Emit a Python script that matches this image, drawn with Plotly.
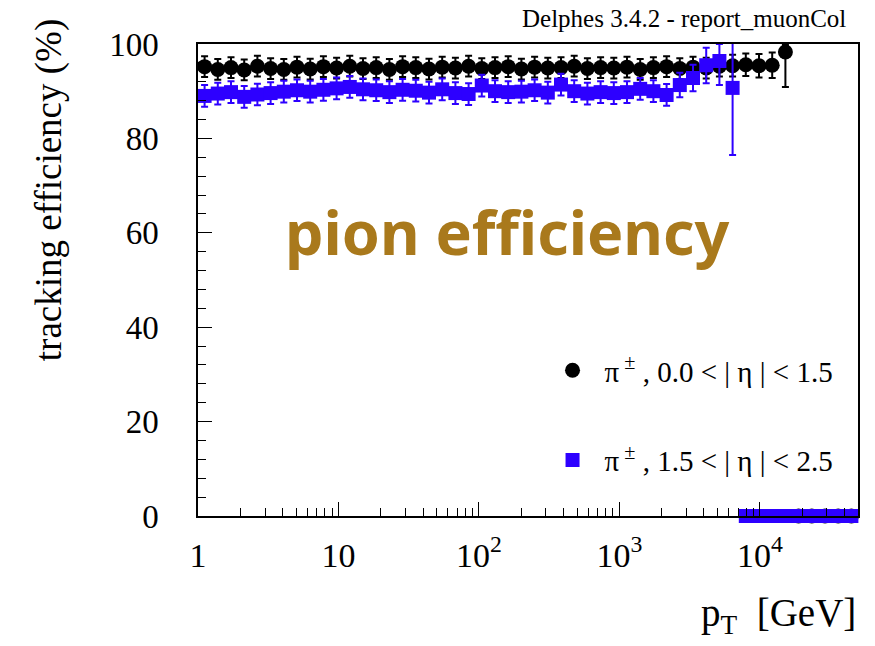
import plotly.graph_objects as go

# pT bin centres (GeV), 50 log-spaced bins from 1 to 5e4
pt = [1.114, 1.383, 1.718, 2.133, 2.648, 3.288, 4.082, 5.068, 6.293, 7.813,
      9.700, 12.04, 14.95, 18.57, 23.05, 28.62, 35.53, 44.12, 54.78, 68.01,
      84.44, 104.8, 130.2, 161.6, 200.7, 249.2, 309.4, 384.1, 476.9, 592.1,
      735.2, 912.8, 1133, 1407, 1747, 2169, 2693, 3344, 4152, 5155,
      6400, 7946, 9866, 12250, 15210, 18880, 23450, 29110, 36140, 44870]

# pi+-, 0.0 < |eta| < 1.5
eff_central = [95.2, 94.6, 95.0, 94.5, 95.3, 94.8, 94.6, 95.1, 94.7, 95.2,
               94.9, 95.3, 94.8, 95.0, 94.6, 95.2, 95.0, 94.7, 95.1, 94.9,
               95.3, 94.8, 95.0, 95.2, 94.7, 95.1, 94.9, 95.0, 95.3, 94.8,
               95.0, 94.9, 95.1, 94.6, 95.0, 95.2, 94.8, 95.1, 94.9, 95.3,
               95.4, 95.6, 95.4, 95.5, 98.3, 0, 0, 0, 0, 0]
err_central_up = [2.2] * 40 + [2.3, 2.4, 2.5, 2.7, 1.5, 0, 0, 0, 0, 0]
err_central_dn = [2.2] * 40 + [2.3, 2.4, 2.5, 2.7, 7.4, 0, 0, 0, 0, 0]

# pi+-, 1.5 < |eta| < 2.5
eff_forward = [89.0, 89.5, 89.8, 88.8, 89.3, 89.6, 89.9, 90.2, 89.9, 90.3,
               90.6, 90.9, 90.4, 90.2, 89.8, 90.3, 90.1, 89.7, 90.4, 89.6,
               89.4, 91.2, 90.0, 89.8, 89.9, 90.2, 89.7, 91.4, 90.0, 89.5,
               89.8, 89.6, 89.8, 90.5, 90.0, 89.2, 91.3, 92.8, 95.5, 96.4,
               90.7, 0, 0, 0, 0, 0, 0, 0, 0, 0]
err_forward_up = [2.3] * 36 + [2.6, 2.8, 3.7, 3.6, 9.5] + [0] * 9
err_forward_dn = [2.3] * 36 + [2.6, 2.8, 3.8, 5.1, 14.2] + [0] * 9

x_tickvals = [1, 10, 100, 1000, 10000]
x_ticktext = ["1", "10", "10<sup>2</sup>", "10<sup>3</sup>", "10<sup>4</sup>"]
x_minor = [m * d for d in (1, 10, 100, 1000, 10000) for m in range(2, 10) if m * d <= 50000]

BLACK = "#000000"
BLUE = "#2d00ff"
SERIF = "Liberation Serif"

fig = go.Figure()
fig.add_trace(go.Scatter(
    x=pt, y=eff_central, mode="markers", cliponaxis=False,
    name="\u03c0<sup> \u00b1</sup> , 0.0 < | \u03b7 | < 1.5", legendgroup="a",
    marker=dict(symbol="circle", size=15, color=BLACK),
    error_y=dict(type="data", array=err_central_up, arrayminus=err_central_dn,
                 color=BLACK, thickness=2, width=3.5),
))
fig.add_trace(go.Scatter(
    x=pt, y=eff_forward, mode="markers", cliponaxis=False,
    name="\u03c0<sup> \u00b1</sup> , 1.5 < | \u03b7 | < 2.5", legendgroup="b",
    marker=dict(symbol="square", size=14, color=BLUE),
    error_y=dict(type="data", array=err_forward_up, arrayminus=err_forward_dn,
                 color=BLUE, thickness=2, width=3.5),
))

fig.update_xaxes(
    type="log", range=[0, 4.69897], tickmode="array", tickvals=x_tickvals, ticktext=x_ticktext,
    ticks="inside", ticklen=14, tickwidth=1, tickcolor="black",
    minor=dict(tickmode="array", tickvals=x_minor, ticks="inside", ticklen=8, tickcolor="black"),
    showline=True, linecolor="black", linewidth=1.5, mirror=True, showgrid=False, zeroline=False,
    tickfont=dict(family=SERIF, size=34, color="black"), ticklabelstandoff=8,
)
fig.update_yaxes(
    range=[0, 100], tickmode="array", tickvals=[0, 20, 40, 60, 80, 100],
    ticks="inside", ticklen=14, tickwidth=1, tickcolor="black",
    minor=dict(dtick=4, ticks="inside", ticklen=8, tickcolor="black"),
    showline=True, linecolor="black", linewidth=1.5, mirror=True, showgrid=False, zeroline=False,
    tickfont=dict(family=SERIF, size=33, color="black"), ticklabelstandoff=31,
)

fig.update_layout(
    width=875, height=646,
    margin=dict(l=198, r=17, t=44, b=130),
    plot_bgcolor="white", paper_bgcolor="white",
    showlegend=True,
    legend=dict(x=0.519, y=0.3626, xanchor="left", yanchor="top",
                font=dict(family=SERIF, size=29, color="black"),
                bgcolor="rgba(0,0,0,0)", tracegroupgap=49, itemwidth=54),
    annotations=[
        dict(text="Delphes 3.4.2 - report_muonCol", x=0.985, y=1.055, xref="paper", yref="paper",
             xanchor="right", yanchor="middle", showarrow=False,
             font=dict(family=SERIF, size=25, color="black")),
        dict(text="tracking efficiency (%)", x=-0.226, y=0.69, xref="paper", yref="paper",
             xanchor="center", yanchor="middle", textangle=-90, showarrow=False,
             font=dict(family=SERIF, size=37, color="black")),
        dict(text="p<sub>T</sub>&nbsp; [GeV]", x=1.0, y=-0.21, xref="paper", yref="paper",
             xanchor="right", yanchor="middle", showarrow=False,
             font=dict(family=SERIF, size=39, color="black")),
        dict(text="<b>pion efficiency</b>", x=0.468, y=0.603, xref="paper", yref="paper",
             xanchor="center", yanchor="middle", showarrow=False,
             font=dict(family="Noto Sans", size=61, color="#a9791c")),
    ],
)

fig.write_html("out.html")
